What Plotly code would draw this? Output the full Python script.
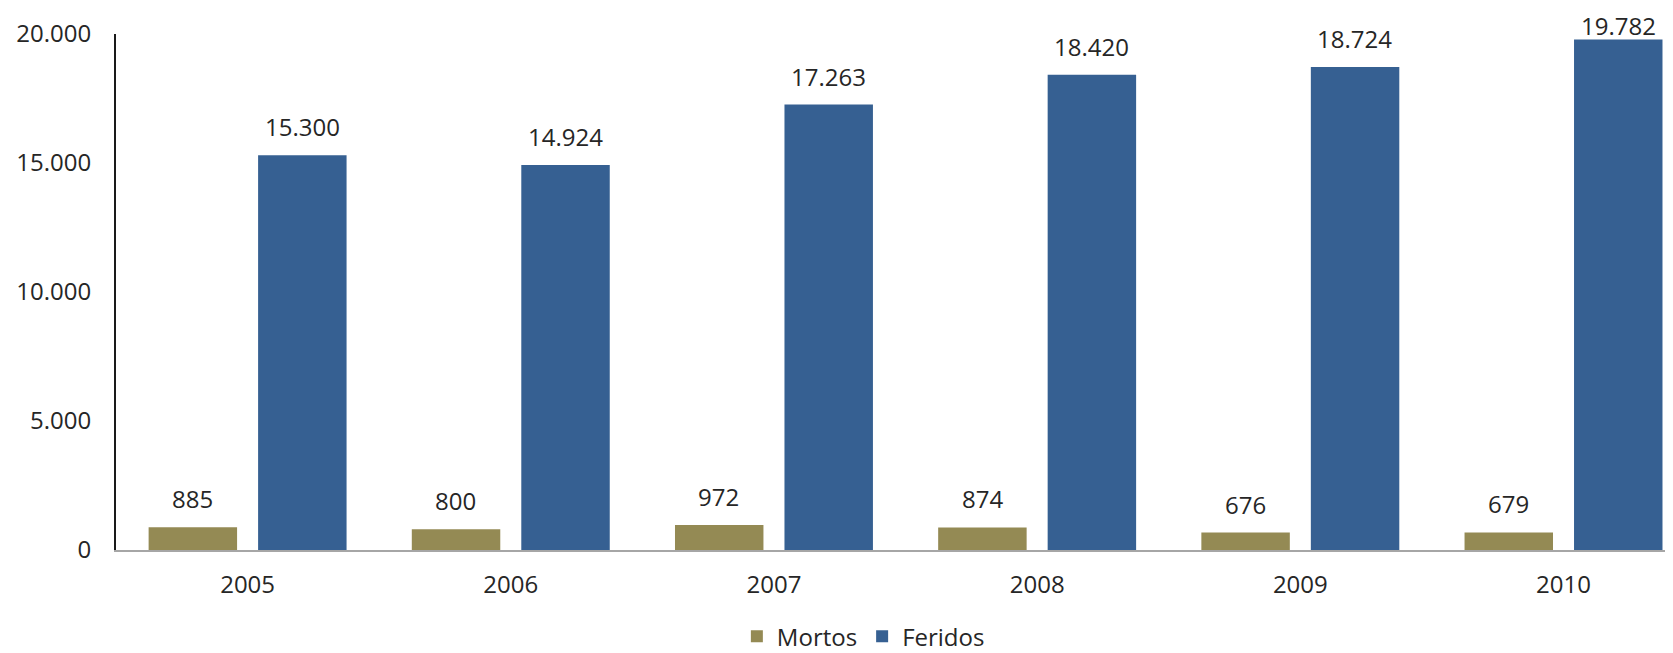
import plotly.graph_objects as go

years = ["2005", "2006", "2007", "2008", "2009", "2010"]
mortos = [885, 800, 972, 874, 676, 679]
feridos = [15300, 14924, 17263, 18420, 18724, 19782]
y_ticks = [0, 5000, 10000, 15000, 20000]

FONT = "Open Sans"
TXT = "#262626"
C_MORTOS = "#948A54"
C_FERIDOS = "#366092"
FS = 24

# page has an 8px body margin; figure is sized so the plot lands where the reference has it
W, H = 1665, 645
ML, MR, MT, MB = 108, 0, 26, 103
YMAX = 20000
PLOT_TOP = 8 + MT
PLOT_H = H - MT - MB

fig = go.Figure()
fig.add_trace(go.Bar(x=years, y=mortos, name="Mortos", marker_color=C_MORTOS,
                     marker_line_width=0))
fig.add_trace(go.Bar(x=years, y=feridos, name="Feridos", marker_color=C_FERIDOS,
                     marker_line_width=0))

def fmt(v):
    return f"{v:,}".replace(",", ".")

def shift_for(v):
    # keep label inside the chart top (like Excel does)
    bar_top = PLOT_TOP + PLOT_H * (1 - v / YMAX)
    return min(10, bar_top - 44)

for i, (m, f) in enumerate(zip(mortos, feridos)):
    fig.add_annotation(x=i, y=m, xref="x", yref="y", text=fmt(m), showarrow=False,
                       xshift=-55, yanchor="bottom", yshift=shift_for(m),
                       font=dict(size=FS, color=TXT, family=FONT))
    fig.add_annotation(x=i, y=f, xref="x", yref="y", text=fmt(f), showarrow=False,
                       xshift=54.5, yanchor="bottom", yshift=shift_for(f),
                       font=dict(size=FS, color=TXT, family=FONT))

fig.update_layout(
    width=W, height=H,
    margin=dict(l=ML, r=MR, t=MT, b=MB, autoexpand=False),
    paper_bgcolor="white", plot_bgcolor="white",
    separators=",.",
    barmode="group", bargap=0.168, bargroupgap=0.192,
    font=dict(family=FONT, size=FS, color=TXT),
    showlegend=True,
    legend=dict(orientation="h", x=0.48, xanchor="center", y=-0.168, yanchor="middle",
                font=dict(size=FS, color=TXT, family=FONT), traceorder="normal"),
    xaxis=dict(type="category", range=[-0.5, 5.416], showline=True, linecolor="#A6A6A6",
               linewidth=2, ticks="", showgrid=False, ticklabelstandoff=12, automargin=False,
               tickfont=dict(size=FS, color=TXT, family=FONT)),
    yaxis=dict(range=[0, YMAX], tickvals=y_ticks, tickformat=",d", showline=True,
               linecolor="#1a1a1a", linewidth=2, ticks="", showgrid=False, zeroline=False,
               automargin=False, ticklabelstandoff=18,
               tickfont=dict(size=FS, color=TXT, family=FONT)),
)

fig.write_html("out.html")
